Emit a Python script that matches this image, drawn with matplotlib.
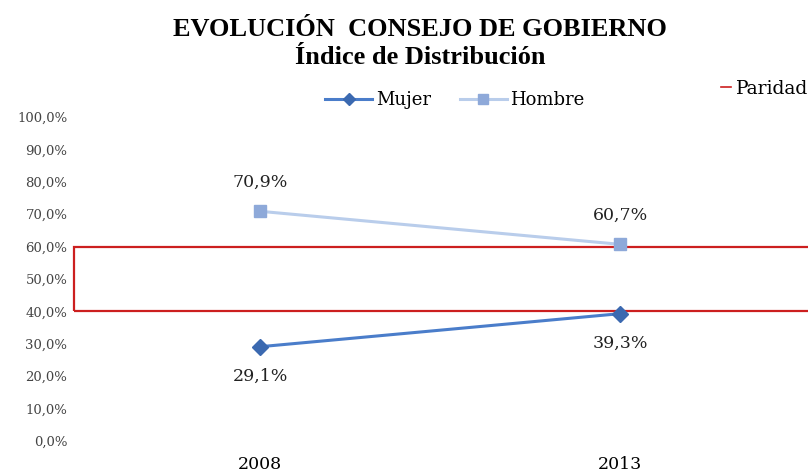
import matplotlib
matplotlib.use("Agg")
import matplotlib.pyplot as plt
from matplotlib.patches import Rectangle
from matplotlib.lines import Line2D

# Data
years = ["2008", "2013"]
mujer = [29.1, 39.3]
hombre = [70.9, 60.7]
paridad = [40.0, 60.0]
y_ticks = [0, 10, 20, 30, 40, 50, 60, 70, 80, 90, 100]

plt.rcParams['font.family'] = ['DejaVu Serif']

fig = plt.figure(figsize=(8.08, 4.75), dpi=100)
ax = fig.add_axes([80 / 808, 1 - 441 / 475, 720 / 808, 324 / 475])

x = range(len(years))
ax.plot(x, hombre, color='#b9cdeb', lw=2.2, marker='s', ms=9,
        mfc='#8ea9d9', mec='#8ea9d9', label='Hombre', zorder=3)
ax.plot(x, mujer, color='#4a7dca', lw=2.2, marker='D', ms=8,
        mfc='#3b69b0', mec='#3b69b0', label='Mujer', zorder=3)

def fmt(v):
    return ('%.1f%%' % v).replace('.', ',')

for i, v in enumerate(hombre):
    ax.annotate(fmt(v), (i, v), xytext=(0, 21), textcoords='offset points',
                ha='center', va='center', fontsize=12.5, color='#222222')
for i, v in enumerate(mujer):
    ax.annotate(fmt(v), (i, v), xytext=(0, -21), textcoords='offset points',
                ha='center', va='center', fontsize=12.5, color='#222222')

ax.set_xlim(-0.5, 1.5)
ax.set_ylim(0, 100)
ax.set_xticks(list(x))
ax.set_xticklabels(years, fontsize=12.5)
ax.set_yticks(y_ticks)
ax.set_yticklabels([fmt(t) for t in y_ticks], fontsize=9.5, color='#444444')
ax.tick_params(length=0)
ax.tick_params(axis='x', pad=11)
ax.tick_params(axis='y', pad=9)
for s in ax.spines.values():
    s.set_visible(False)

# Parity band (outlined rectangle running off the right edge)
rect = Rectangle((-0.5 - 6 / 360, paridad[0]), 2.1, paridad[1] - paridad[0],
                 fill=False, edgecolor='#cc1f1f', lw=1.6, clip_on=False,
                 zorder=2)
ax.add_patch(rect)

# Legends
handles = [
    Line2D([], [], color='#4a7dca', lw=2.2, marker='D', ms=6,
           mfc='#3b69b0', mec='#3b69b0'),
    Line2D([], [], color='#b9cdeb', lw=2.2, marker='s', ms=7,
           mfc='#8ea9d9', mec='#8ea9d9'),
]
fig.legend(handles, ['Mujer', 'Hombre'], loc='center',
           bbox_to_anchor=(455 / 808, 1 - 100 / 475), ncol=2, frameon=False,
           fontsize=13, handlelength=2.6, columnspacing=1.6,
           handletextpad=0.2)
fig.legend([Line2D([], [], color='#cc1f1f', lw=1.2)], ['Paridad'],
           loc='center', bbox_to_anchor=(765 / 808, 1 - 89 / 475),
           frameon=False, fontsize=13.5, handlelength=0.5, handletextpad=0.3)

fig.text(0.52, 1 - 30 / 475, 'EVOLUCIÓN  CONSEJO DE GOBIERNO',
         ha='center', va='center', fontsize=19, fontweight='bold',
         family='Liberation Serif')
fig.text(0.52, 1 - 58 / 475, 'Índice de Distribución',
         ha='center', va='center', fontsize=19, fontweight='bold',
         family='Liberation Serif')

fig.savefig('out.png', dpi=100)
